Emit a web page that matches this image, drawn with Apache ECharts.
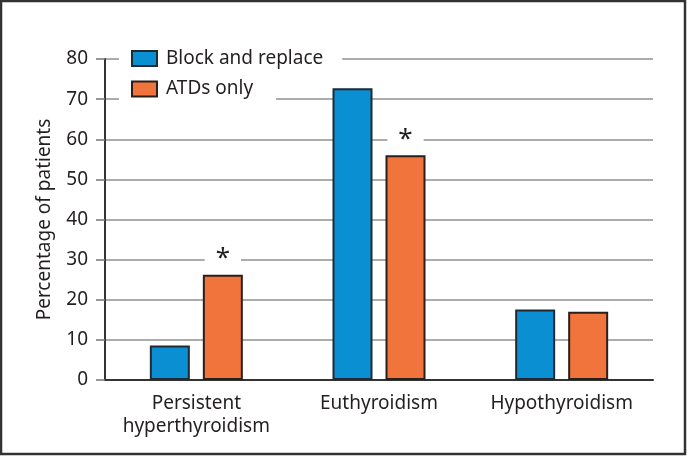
<!DOCTYPE html>
<html>
<head>
<meta charset="utf-8">
<script src="https://cdn.jsdelivr.net/npm/echarts@6/dist/echarts.min.js"></script>
<style>
  html, body { margin: 0; padding: 0; background: #fff; }
  #chart { width: 687px; height: 456px; }
</style>
</head>
<body>
<div id="chart"></div>
<script>
const categories = ['Persistent\nhyperthyroidism', 'Euthyroidism', 'Hypothyroidism']
const blockAndReplace = [8.6, 72.7, 17.6]
const atdsOnly = [26.2, 56.0, 17.0]
// asterisk above ATDs only bar
const significant = [true, true, false]
const yMin = 0
const yMax = 80
const yStep = 10

const textColor = '#231f20'
const font = 'Noto Sans'

const chart = echarts.init(document.getElementById('chart'))

const legendBase = {
  left: 119,
  orient: 'vertical',
  backgroundColor: '#fff',
  itemWidth: 25,
  itemHeight: 15,
  icon: 'rect',
  textStyle: {
    color: textColor,
    fontFamily: font,
    fontSize: 19,
    lineHeight: 20,
    padding: [0, 0, 0, 4],
  },
}

const option = {
  animation: false,
  graphic: [
    {
      type: 'rect',
      shape: { x: 1, y: 1, width: 684, height: 453 },
      style: { fill: 'none', stroke: '#333', lineWidth: 2.5 },
      z: 100,
    },
  ],
  legend: [
    { ...legendBase, top: 46.5, padding: [2, 19, 2, 12], data: ['Block and replace'] },
    { ...legendBase, top: 77, padding: [2, 23, 2, 12], data: ['ATDs only'] },
  ],
  grid: {
    left: 105,
    right: 34,
    top: 59,
    bottom: 76,
  },
  xAxis: {
    type: 'category',
    data: categories,
    axisLine: { lineStyle: { color: '#333', width: 2 } },
    axisTick: { length: 10, lineStyle: { color: '#333', width: 2 } },
    axisLabel: {
      interval: 0,
      hideOverlap: false,
      color: textColor,
      fontFamily: font,
      fontSize: 19,
      lineHeight: 23,
      margin: 12,
    },
  },
  yAxis: {
    type: 'value',
    min: yMin,
    max: yMax,
    interval: yStep,
    name: 'Percentage of patients',
    nameLocation: 'middle',
    nameGap: 51,
    nameTextStyle: { color: textColor, fontFamily: font, fontSize: 19 },
    axisLine: { show: true, lineStyle: { color: '#333', width: 2 } },
    axisTick: { show: true, length: 9, lineStyle: { color: '#777', width: 1.5 } },
    axisLabel: { color: textColor, fontFamily: font, fontSize: 19, margin: 17 },
    splitLine: { lineStyle: { color: '#919191', width: 1.5 } },
  },
  series: [
    {
      name: 'Block and replace',
      type: 'bar',
      data: blockAndReplace,
      barWidth: 40,
      barGap: '32.5%',
      itemStyle: { color: '#0a8fd2', borderColor: '#1f2a33', borderWidth: 2 },
    },
    {
      name: 'ATDs only',
      type: 'bar',
      data: atdsOnly.map((v, i) => ({
        value: v,
        label: {
          show: significant[i],
          position: 'top',
          distance: 7,
          formatter: '*',
          color: textColor,
          fontFamily: font,
          fontSize: 26,
          lineHeight: 18,
          backgroundColor: '#fff',
          padding: [4, 11, 0, 11],
        },
      })),
      barWidth: 40,
      itemStyle: { color: '#f0743b', borderColor: '#2a1f1a', borderWidth: 2 },
    },
  ],
}

chart.setOption(option)
</script>
</body>
</html>
